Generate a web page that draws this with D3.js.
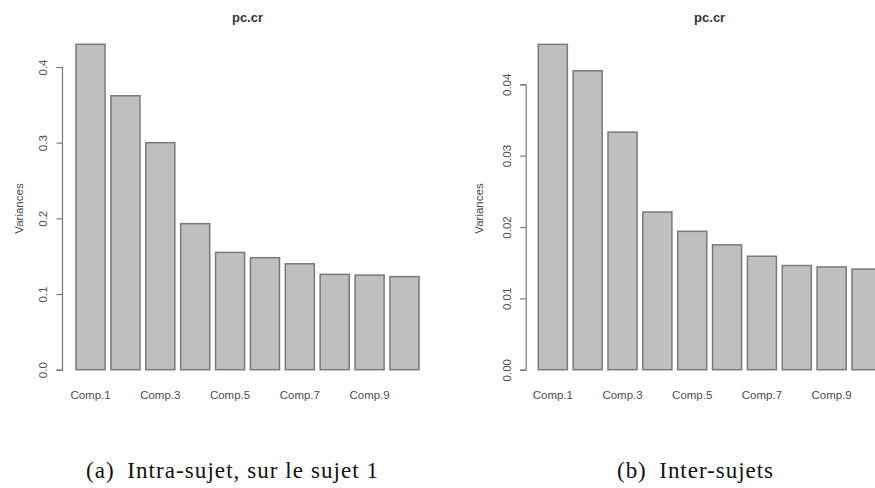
<!DOCTYPE html>
<html>
<head>
<meta charset="utf-8">
<script src="https://cdn.jsdelivr.net/npm/d3@7"></script>
<style>
  html, body { margin: 0; padding: 0; background: #fff; }
  svg { display: block; }
</style>
</head>
<body>
<svg id="chart" width="875" height="488"></svg>
<script>
// ---- data ----
const categories = ["Comp.1","Comp.2","Comp.3","Comp.4","Comp.5","Comp.6","Comp.7","Comp.8","Comp.9","Comp.10"];
const intraValues = [0.430, 0.362, 0.300, 0.193, 0.155, 0.148, 0.140, 0.126, 0.125, 0.123];
const interValues = [0.0456, 0.0419, 0.0333, 0.0221, 0.0194, 0.0175, 0.0159, 0.0146, 0.0144, 0.0141];
const intraTicks = [0, 0.1, 0.2, 0.3, 0.4];
const interTicks = [0, 0.01, 0.02, 0.03, 0.04];
const shownLabels = ["Comp.1","Comp.3","Comp.5","Comp.7","Comp.9"];
const titles = ["pc.cr", "pc.cr"];
const yLabel = "Variances";
const captions = ["(a)\u2002Intra-sujet, sur le sujet 1", "(b)\u2002Inter-sujets"];

const svg = d3.select("#chart");
const sans = "'Liberation Sans', Arial, sans-serif";

function panel(cfg) {
  const g = svg.append("g");
  const x = d3.scaleBand().domain(categories).range(cfg.xRange)
    .paddingInner(0.2 / 1.2).paddingOuter(0);
  const y = d3.scaleLinear().domain([0, cfg.ticks[cfg.ticks.length - 1]]).range(cfg.yRange);

  // bars
  g.selectAll("rect.bar").data(cfg.values).enter().append("rect")
    .attr("class", "bar")
    .attr("x", (d, i) => x(categories[i]))
    .attr("y", d => y(d))
    .attr("width", x.bandwidth())
    .attr("height", d => y(0) - y(d))
    .attr("fill", "#bfbfbf")
    .attr("stroke", "#7a7a7a")
    .attr("stroke-width", 1.5);

  // y axis
  const yAxis = d3.axisLeft(y).tickValues(cfg.ticks).tickSize(5.5).tickPadding(0).tickFormat(cfg.fmt);
  const ga = g.append("g").attr("transform", `translate(${cfg.axisX},0)`).call(yAxis);
  ga.select(".domain").attr("stroke", "#7a7a7a").attr("stroke-width", 1.2);
  ga.selectAll(".tick line").attr("stroke", "#7a7a7a").attr("stroke-width", 1.2);
  ga.selectAll(".tick text")
    .attr("x", null).attr("dy", null)
    .attr("transform", "translate(-15,0) rotate(-90)")
    .attr("text-anchor", "middle")
    .attr("font-family", sans).attr("font-size", 11.5).attr("fill", "#4d4d4d");

  // x labels
  const xAxis = d3.axisBottom(x).tickSize(0).tickPadding(0)
    .tickFormat(d => shownLabels.includes(d) ? d : "");
  const gx = g.append("g").attr("transform", `translate(0,${y(0)})`).call(xAxis);
  gx.select(".domain").remove();
  gx.selectAll(".tick text").attr("y", 29).attr("dy", null)
    .attr("font-family", sans).attr("font-size", 11.5).attr("fill", "#4d4d4d");

  // y label
  g.append("text")
    .attr("transform", `translate(${cfg.labelX},208.5) rotate(-90)`)
    .attr("text-anchor", "middle")
    .attr("font-family", sans).attr("font-size", 11.5).attr("fill", "#4d4d4d")
    .text(yLabel);

  // title
  g.append("text")
    .attr("x", (cfg.xRange[0] + cfg.xRange[1]) / 2).attr("y", 22)
    .attr("text-anchor", "middle")
    .attr("font-family", sans).attr("font-weight", "bold").attr("font-size", 13).attr("fill", "#333")
    .text(cfg.title);

  // caption
  g.append("text")
    .attr("x", cfg.capX).attr("y", 478)
    .attr("font-family", "'Liberation Serif', 'Times New Roman', serif")
    .attr("font-size", 23).attr("fill", "#111")
    .attr("textLength", cfg.capLen).attr("lengthAdjust", "spacing")
    .text(cfg.caption);
}

panel({
  values: intraValues, ticks: intraTicks, fmt: d3.format(".1f"),
  xRange: [76, 419], yRange: [369.7, 67], axisX: 62, labelX: 23,
  title: titles[0], caption: captions[0], capX: 86, capLen: 292
});
panel({
  values: interValues, ticks: interTicks, fmt: d3.format(".2f"),
  xRange: [538.3, 881], yRange: [369.7, 84.3], axisX: 525.7, labelX: 483,
  title: titles[1], caption: captions[1], capX: 617, capLen: 156
});
</script>
</body>
</html>
